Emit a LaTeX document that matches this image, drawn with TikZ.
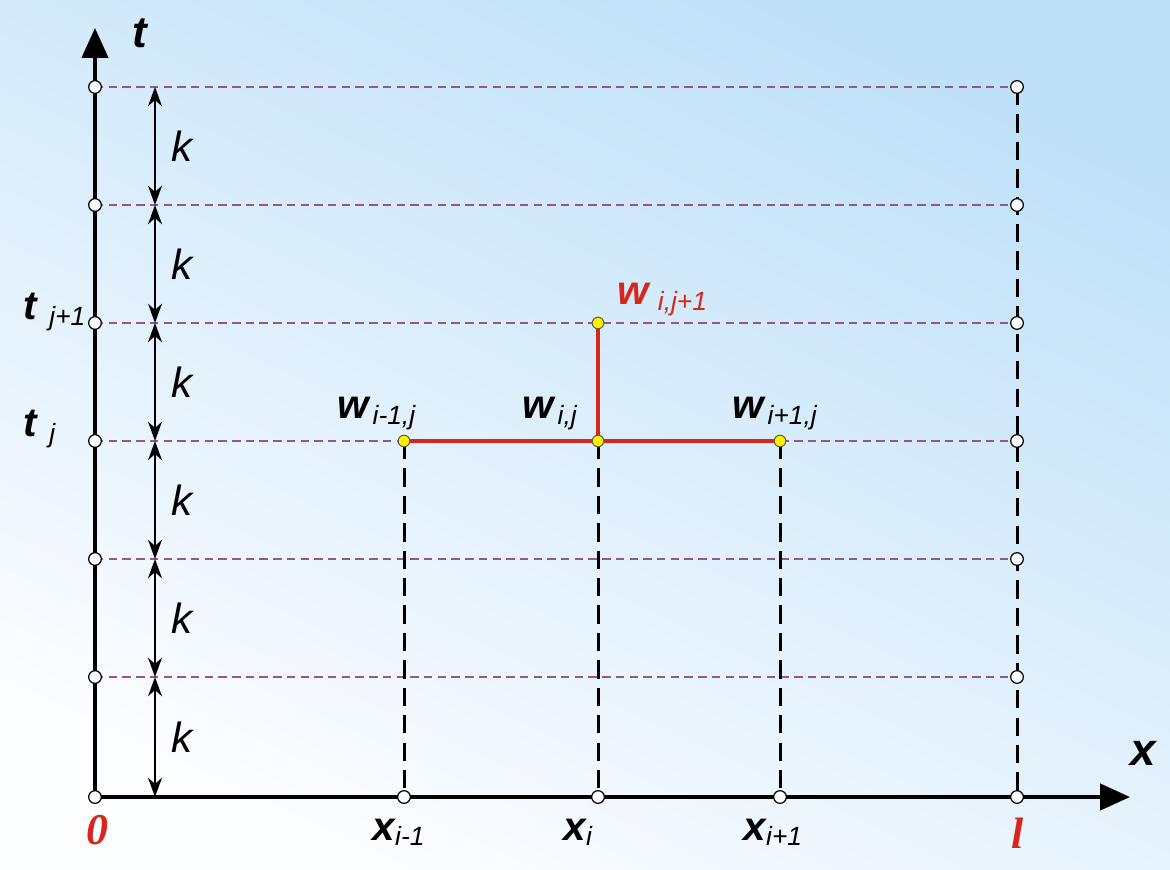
\documentclass[tikz,border=0pt]{standalone}
\usepackage{fontspec}
\setmainfont{Liberation Sans}
\newfontfamily\serifbi{Liberation Serif}
\usetikzlibrary{arrows.meta}

\definecolor{gridpurple}{RGB}{150,85,140}
\definecolor{schemered}{RGB}{215,38,30}
\definecolor{nodeyellow}{RGB}{255,240,0}
\definecolor{bgblue}{RGB}{190,224,248}
\definecolor{bgwhite}{RGB}{252,253,255}

\newcommand{\subtxt}[1]{\raisebox{-1.6pt}{\fontsize{7.5}{7.5}\selectfont\mdseries\itshape #1}}

\tikzset{
	axisline/.style={line width=1.15pt, -{Triangle[length=8.5pt,width=7.4pt]}},
	gridline/.style={gridpurple, line width=0.35pt, dash pattern=on 2.4pt off 1.5pt},
	levelline/.style={black, line width=0.85pt, dash pattern=on 5.2pt off 2.6pt},
	schemeline/.style={schemered, line width=1.15pt},
	dimarrow/.style={line width=0.4pt, {Stealth[length=5.5pt,width=4pt]}-{Stealth[length=5.5pt,width=4pt]}},
	gridpt/.style={draw=black, fill=white, shape=circle, line width=0.35pt, minimum size=3.6pt, inner sep=0pt},
	schemept/.style={draw=black!70!yellow, fill=nodeyellow, shape=circle, line width=0.3pt, minimum size=3.3pt, inner sep=0pt},
	lbl/.style={font=\fontsize{11.5}{11.5}\selectfont\bfseries\itshape, inner sep=0pt, anchor=base west},
	steplbl/.style={font=\fontsize{12}{12}\selectfont\itshape, inner sep=0pt},
	endlbl/.style={font=\fontsize{12.5}{12.5}\selectfont\serifbi\bfseries\itshape, text=schemered, inner sep=0pt}
}

\begin{document}
\begin{tikzpicture}
	% background
	\shade[top color=bgblue, bottom color=bgwhite, shading angle=-25] (-0.95,-0.72) rectangle (10.75,7.97);
	\useasboundingbox (-0.95,-0.72) rectangle (10.75,7.97);

	% points on the t axis
	\coordinate (a_0) at (0,0);
	\coordinate (a_1) at (0,1.20);
	\coordinate (a_2) at (0,2.38);
	\coordinate (a_3) at (0,3.56);
	\coordinate (a_4) at (0,4.74);
	\coordinate (a_5) at (0,5.92);
	\coordinate (a_6) at (0,7.10);
	% points on x = l
	\coordinate (b_0) at (9.22,0);
	\coordinate (b_1) at (9.22,1.20);
	\coordinate (b_2) at (9.22,2.38);
	\coordinate (b_3) at (9.22,3.56);
	\coordinate (b_4) at (9.22,4.74);
	\coordinate (b_5) at (9.22,5.92);
	\coordinate (b_6) at (9.22,7.10);
	% points on the x axis
	\coordinate (p_1) at (3.09,0);
	\coordinate (p_2) at (5.03,0);
	\coordinate (p_3) at (6.85,0);
	% scheme points
	\coordinate (w_l) at (3.09,3.56);
	\coordinate (w_c) at (5.03,3.56);
	\coordinate (w_r) at (6.85,3.56);
	\coordinate (w_t) at (5.03,4.74);
	% step marks
	\coordinate (d_0) at (0.60,0);
	\coordinate (d_1) at (0.60,1.20);
	\coordinate (d_2) at (0.60,2.38);
	\coordinate (d_3) at (0.60,3.56);
	\coordinate (d_4) at (0.60,4.74);
	\coordinate (d_5) at (0.60,5.92);
	\coordinate (d_6) at (0.60,7.10);
	\coordinate (t_tip) at (0,7.69);
	\coordinate (x_tip) at (10.35,0);

	\draw[gridline] (a_1) -- (b_1);
	\draw[gridline] (a_2) -- (b_2);
	\draw[gridline] (a_3) -- (b_3);
	\draw[gridline] (a_4) -- (b_4);
	\draw[gridline] (a_5) -- (b_5);
	\draw[gridline] (a_6) -- (b_6);

	\draw[levelline] (b_6) -- (b_0);
	\draw[levelline] (w_l) -- (p_1);
	\draw[levelline] (w_c) -- (p_2);
	\draw[levelline] (w_r) -- (p_3);

	\draw[axisline] (a_0) -- (t_tip);
	\draw[axisline] (a_0) -- (x_tip);

	\draw[schemeline] (w_l) -- (w_r);
	\draw[schemeline] (w_c) -- (w_t);

	\draw[dimarrow] (d_0) -- (d_1);
	\draw[dimarrow] (d_1) -- (d_2);
	\draw[dimarrow] (d_2) -- (d_3);
	\draw[dimarrow] (d_3) -- (d_4);
	\draw[dimarrow] (d_4) -- (d_5);
	\draw[dimarrow] (d_5) -- (d_6);

	\node[gridpt] (ca_0) at (a_0) {};
	\node[gridpt] (ca_1) at (a_1) {};
	\node[gridpt] (ca_2) at (a_2) {};
	\node[gridpt] (ca_3) at (a_3) {};
	\node[gridpt] (ca_4) at (a_4) {};
	\node[gridpt] (ca_5) at (a_5) {};
	\node[gridpt] (ca_6) at (a_6) {};
	\node[gridpt] (cb_0) at (b_0) {};
	\node[gridpt] (cb_1) at (b_1) {};
	\node[gridpt] (cb_2) at (b_2) {};
	\node[gridpt] (cb_3) at (b_3) {};
	\node[gridpt] (cb_4) at (b_4) {};
	\node[gridpt] (cb_5) at (b_5) {};
	\node[gridpt] (cb_6) at (b_6) {};
	\node[gridpt] (cp_1) at (p_1) {};
	\node[gridpt] (cp_2) at (p_2) {};
	\node[gridpt] (cp_3) at (p_3) {};
	\node[schemept] (cw_l) at (w_l) {};
	\node[schemept] (cw_c) at (w_c) {};
	\node[schemept] (cw_r) at (w_r) {};
	\node[schemept] (cw_t) at (w_t) {};

	% step labels
	\node[steplbl] (k_1) at (0.87,0.60) {k};
	\node[steplbl] (k_2) at (0.87,1.79) {k};
	\node[steplbl] (k_3) at (0.87,2.97) {k};
	\node[steplbl] (k_4) at (0.87,4.15) {k};
	\node[steplbl] (k_5) at (0.87,5.33) {k};
	\node[steplbl] (k_6) at (0.87,6.51) {k};

	% axis labels
	\node[lbl, anchor=center, font=\fontsize{12.5}{12.5}\selectfont\bfseries\itshape] (t_lbl) at (0.45,7.64) {t};
	\node[lbl, anchor=center, font=\fontsize{13}{13}\selectfont\bfseries\itshape] (x_lbl) at (10.48,0.44) {x};
	\node[endlbl] (zero_lbl) at (0.02,-0.33) {0};
	\node[endlbl] (l_lbl) at (9.23,-0.36) {l};
	\node[lbl] (tj1_lbl) at (-0.72,4.77) {t\hspace{3.5pt}\subtxt{j+1}};
	\node[lbl] (tj_lbl) at (-0.72,3.60) {t\hspace{3.5pt}\subtxt{j}};
	\node[lbl] (xl_lbl) at (2.77,-0.43) {x\subtxt{i-1}};
	\node[lbl] (xc_lbl) at (4.68,-0.43) {x\subtxt{i}};
	\node[lbl] (xr_lbl) at (6.48,-0.43) {x\subtxt{i+1}};

	% scheme labels
	\node[lbl] (wl_lbl) at (2.42,3.78) {w\hspace{1pt}\subtxt{i-1,j}};
	\node[lbl] (wc_lbl) at (4.27,3.78) {w\hspace{1pt}\subtxt{i,j}};
	\node[lbl] (wr_lbl) at (6.37,3.78) {w\hspace{1pt}\subtxt{i+1,j}};
	\node[lbl, text=schemered] (wt_lbl) at (5.22,4.92) {w\hspace{2.5pt}\subtxt{i,j+1}};
\end{tikzpicture}
\end{document}
